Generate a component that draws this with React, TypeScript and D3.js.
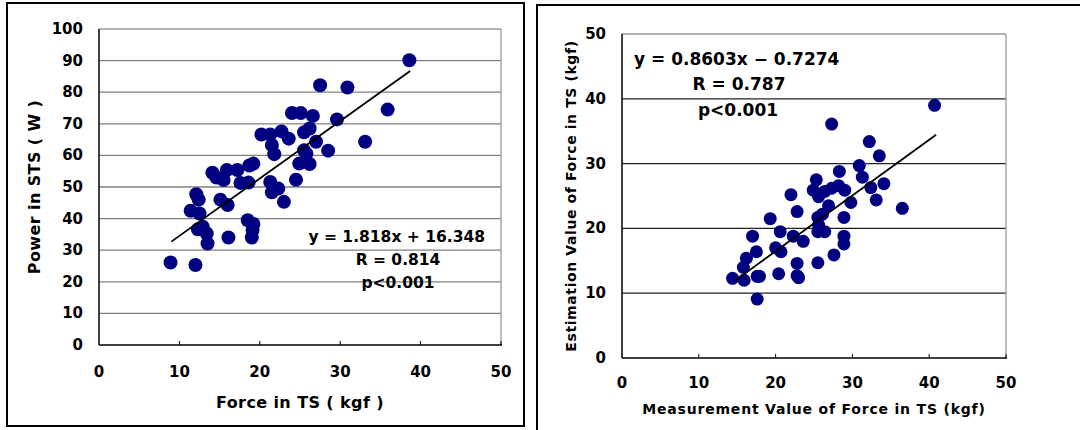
import React from 'react';
import * as d3 from "d3";

const width = 1080;
const height = 430;

// left chart: force in TS vs power in STS
const leftX = [8.9, 12.0, 13.5, 13.4, 12.9, 12.3, 16.1, 19.0, 19.1, 19.2, 18.5, 12.5, 11.4, 16.0, 15.1, 12.4, 12.1,
    14.1, 14.6, 15.5, 15.9, 17.2, 18.7, 19.2, 17.6, 18.6, 21.3, 22.3, 21.5, 23.0, 24.5, 24.9, 26.2, 25.5, 25.8,
    28.5, 27.0, 25.5, 26.2, 21.5, 21.8, 20.2, 21.3, 22.7, 23.6, 24.0, 25.1, 26.6, 29.6, 27.5, 30.9, 35.9, 33.1, 38.6];
const leftY = [26.1, 25.3, 32.1, 35.3, 37.4, 36.6, 34.0, 34.0, 36.4, 38.3, 39.5, 41.6, 42.5, 44.3, 46.0, 46.0, 47.7,
    54.5, 53.0, 52.2, 55.4, 55.4, 56.8, 57.4, 51.3, 51.4, 51.6, 49.5, 48.3, 45.3, 52.3, 57.4, 57.3, 61.6, 60.5,
    61.5, 64.3, 67.3, 68.5, 63.3, 60.4, 66.6, 66.6, 67.6, 65.3, 73.4, 73.4, 72.5, 71.4, 82.2, 81.5, 74.5, 64.3, 90.1];
const leftFit = { slope: 1.818, intercept: 16.348, from: 9.0, to: 38.7 };
const leftXTicks = [0, 10, 20, 30, 40, 50];
const leftYTicks = [0, 10, 20, 30, 40, 50, 60, 70, 80, 90, 100];
const leftNotes = ["y = 1.818x + 16.348", "R = 0.814", "p<0.001"];

// right chart: measured vs estimated force in TS
const rightX = [40.7, 27.3, 32.2, 33.5, 30.9, 28.3, 31.3, 34.1, 32.4, 33.1, 36.5, 25.3, 24.9, 25.6, 26.4, 27.3, 28.2,
    29.0, 29.8, 22.0, 26.9, 22.8, 19.3, 28.9, 25.5, 26.1, 25.6, 25.5, 26.4, 20.6, 22.3, 23.6, 28.9, 28.9, 17.0,
    20.0, 20.7, 17.5, 16.2, 15.8, 14.4, 15.9, 17.6, 17.9, 20.4, 22.8, 22.8, 23.0, 25.5, 27.6, 17.6];
const rightY = [39.0, 36.1, 33.4, 31.2, 29.7, 28.8, 27.9, 26.9, 26.3, 24.4, 23.1, 27.5, 25.9, 24.9, 25.7, 26.2, 26.6,
    25.9, 24.0, 25.2, 23.5, 22.6, 21.5, 21.7, 21.7, 22.2, 20.5, 19.5, 19.5, 19.5, 18.8, 18.0, 18.8, 17.6, 18.8,
    17.0, 16.4, 16.4, 15.4, 14.0, 12.3, 12.0, 12.6, 12.6, 13.0, 14.6, 12.7, 12.4, 14.7, 15.9, 9.1];
const rightFit = { slope: 0.8603, intercept: -0.7274, from: 14.7, to: 40.9 };
const rightXTicks = [0, 10, 20, 30, 40, 50];
const rightYTicks = [0, 10, 20, 30, 40, 50];
const rightNotes = ["y = 0.8603x \u2212 0.7274", "R = 0.787", "p<0.001"];

const font = "'DejaVu Sans', sans-serif";
const navy = "#000080";

function Scatter({ xs, ys, fit, xTicks, yTicks, xRange, yRange, xMax, yMax, r, gridColor, xTitle, yTitle,
    xTitleY, yTitleX, xLabelDy, titleSize, xSpacing, ySpacing, notes, noteX, noteY, noteSize, noteAlign }) {
    const x = d3.scaleLinear().domain([0, xMax]).range(xRange);
    const y = d3.scaleLinear().domain([0, yMax]).range(yRange);
    const line = d3.line<number>().x(d => x(d)).y(d => y(fit.slope * d + fit.intercept));
    const [x0, x1] = xRange;
    const [y0, y1] = yRange;
    return (
        <g>
            {yTicks.filter(t => t > 0 && t < yMax).map(t => (
                <line key={"g" + t} x1={x0} x2={x1} y1={y(t)} y2={y(t)} stroke={gridColor} strokeWidth={1.3} />
            ))}
            <line x1={x0} x2={x1} y1={y1} y2={y1} stroke="#999" strokeWidth={1.3} />
            <line x1={x1} x2={x1} y1={y1} y2={y0} stroke="#999" strokeWidth={1.3} />
            <line x1={x0} x2={x0} y1={y1} y2={y0} stroke="#000" strokeWidth={1.5} />
            <line x1={x0} x2={x1 + 1} y1={y0} y2={y0} stroke="#000" strokeWidth={1.5} />
            {xTicks.filter(t => t > 0).map(t => (
                <line key={"t" + t} x1={x(t)} x2={x(t)} y1={y0} y2={y0 - 4} stroke="#000" strokeWidth={1} />
            ))}
            {xTicks.map(t => (
                <text key={"xl" + t} x={x(t)} y={y0 + xLabelDy} textAnchor="middle" dominantBaseline="central"
                    fontFamily={font} fontWeight="bold" fontSize={15}>{t}</text>
            ))}
            {yTicks.map(t => (
                <text key={"yl" + t} x={x0 - 16} y={y(t)} textAnchor="end" dominantBaseline="central"
                    fontFamily={font} fontWeight="bold" fontSize={15}>{t}</text>
            ))}
            <text x={(x0 + x1) / 2} y={xTitleY} textAnchor="middle" dominantBaseline="central" fontFamily={font}
                fontWeight="bold" fontSize={titleSize} letterSpacing={xSpacing}>{xTitle}</text>
            <text transform={`translate(${yTitleX},${(y0 + y1) / 2}) rotate(-90)`} textAnchor="middle"
                dominantBaseline="central" fontFamily={font} fontWeight="bold" fontSize={titleSize}
                letterSpacing={ySpacing}>{yTitle}</text>
            {xs.map((v, i) => (
                <circle key={"p" + i} cx={x(v)} cy={y(ys[i])} r={r} fill={navy} />
            ))}
            <path d={line([fit.from, fit.to])} stroke="#000" strokeWidth={1.8} fill="none" />
            {notes.map((n, i) => (
                <text key={"n" + i} x={noteX[i]} y={noteY[i]} textAnchor={noteAlign[i]} dominantBaseline="central"
                    fontFamily={font} fontWeight="bold" fontSize={noteSize}>{n}</text>
            ))}
        </g>
    );
}

export default function App() {
    return (
        <svg width={width} height={height} style={{ position: "absolute", left: 0, top: 0, background: "#fff" }}>
            <rect x={0} y={0} width={width} height={height} fill="#fff" />
            <rect x={7} y={3} width={517} height={423} fill="none" stroke="#000" strokeWidth={2} />
            <path d="M537,431 L537,5 L1081,5" fill="none" stroke="#000" strokeWidth={2} />
            <Scatter xs={leftX} ys={leftY} fit={leftFit} xTicks={leftXTicks} yTicks={leftYTicks}
                xRange={[99, 501]} yRange={[345, 29]} xMax={50} yMax={100} r={7} gridColor="#808080"
                xTitle="Force in TS ( kgf )" yTitle="Power in STS ( W )" xTitleY={402} yTitleX={34}
                xLabelDy={27} titleSize={16} xSpacing={0.4} ySpacing={0.4} notes={leftNotes}
                noteX={[485, 398, 398]} noteY={[237, 260, 283]} noteSize={15.5}
                noteAlign={["end", "middle", "middle"]} />
            <Scatter xs={rightX} ys={rightY} fit={rightFit} xTicks={rightXTicks} yTicks={rightYTicks}
                xRange={[622, 1006]} yRange={[358, 34]} xMax={50} yMax={50} r={6.5} gridColor="#222"
                xTitle="Measurement Value of Force in TS (kgf)" yTitle="Estimation Value of Force in TS (kgf)"
                xTitleY={409} yTitleX={571} xLabelDy={25} titleSize={14} xSpacing={0.8} ySpacing={0.6}
                notes={rightNotes} noteX={[634, 739, 738]} noteY={[59, 84, 110]} noteSize={17}
                noteAlign={["start", "middle", "middle"]} />
        </svg>
    );
}
